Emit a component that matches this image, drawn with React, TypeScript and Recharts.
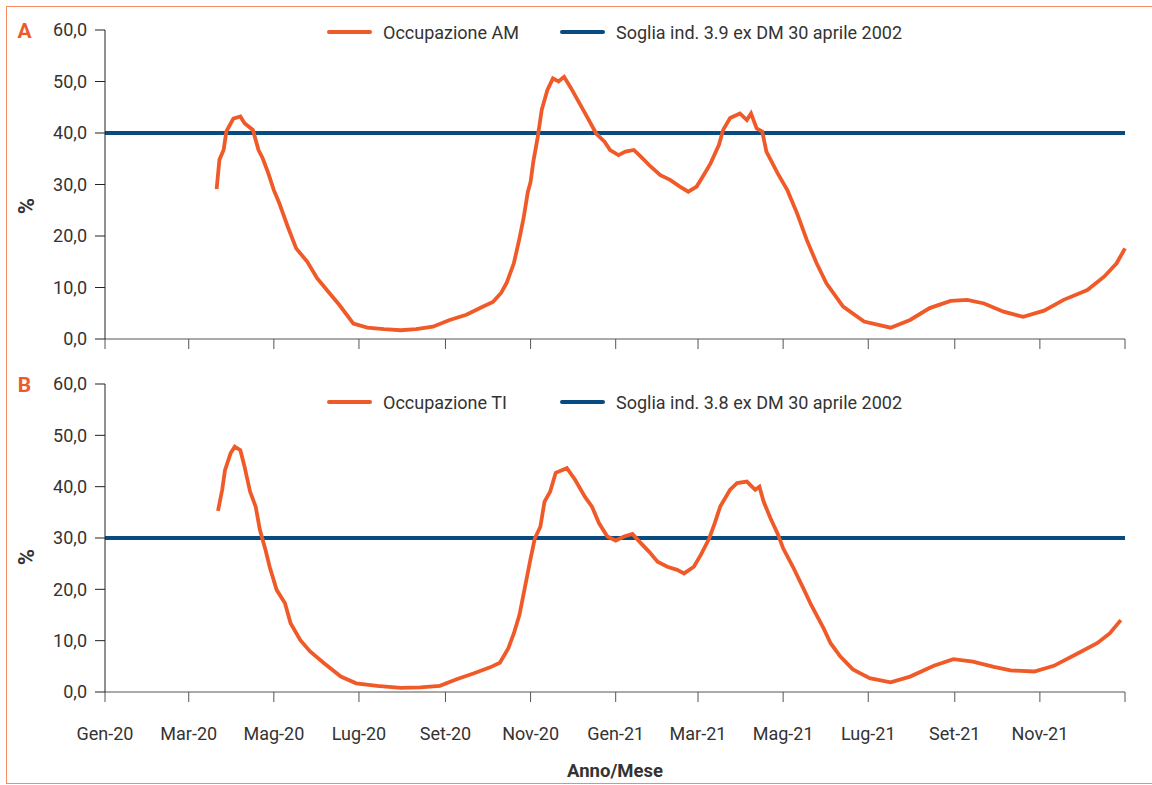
import React from 'react';
import { LineChart, Line, XAxis, YAxis, ReferenceLine } from 'recharts';

// days counted from 1 Jan 2020
const monthTicks = [0, 60, 121, 182, 244, 305, 366, 425, 486, 547, 609, 670, 731];
const monthLabels = ['Gen-20', 'Mar-20', 'Mag-20', 'Lug-20', 'Set-20', 'Nov-20', 'Gen-21', 'Mar-21', 'Mag-21', 'Lug-21', 'Set-21', 'Nov-21', ''];
const yTicks = [0, 10, 20, 30, 40, 50, 60];

const amDays = [80, 82, 85, 87, 92, 97, 100, 106, 110, 113, 117, 121, 125, 131, 137, 145, 152, 159, 168, 178, 188, 200, 212, 223, 235, 247, 259, 271, 278, 284, 288, 293, 297, 300, 303, 305, 307, 310, 313, 317, 321, 325, 329, 334, 340, 346, 352, 358, 362, 368, 373, 379, 384, 391, 398, 405, 412, 418, 424, 429, 434, 440, 443, 448, 455, 460, 463, 467, 471, 474, 482, 489, 496, 503, 510, 517, 529, 544, 563, 577, 591, 606, 618, 630, 644, 658, 673, 687, 704, 716, 725, 731];
const amValues = [29.1, 34.8, 36.7, 40.3, 42.8, 43.2, 41.9, 40.6, 36.7, 35.1, 32.2, 28.9, 26.3, 21.8, 17.6, 15.0, 11.8, 9.5, 6.6, 3.0, 2.2, 1.9, 1.7, 1.9, 2.4, 3.7, 4.7, 6.3, 7.2, 9.0, 11.0, 14.7, 19.5, 23.5, 28.5, 30.5, 34.5, 39.0, 44.5, 48.3, 50.6, 50.0, 50.9, 48.7, 45.8, 42.9, 39.9, 38.3, 36.7, 35.7, 36.4, 36.7, 35.4, 33.5, 31.8, 30.9, 29.6, 28.6, 29.6, 31.8, 34.1, 37.7, 40.6, 42.9, 43.8, 42.5, 43.8, 40.9, 40.3, 36.4, 32.2, 28.9, 24.4, 19.2, 14.7, 10.8, 6.3, 3.4, 2.2, 3.7, 6.0, 7.4, 7.6, 6.9, 5.3, 4.3, 5.5, 7.6, 9.5, 12.1, 14.7, 17.6];

const tiDays = [81, 84, 86, 90, 93, 97, 100, 104, 108, 111, 115, 118, 123, 129, 133, 140, 147, 157, 169, 180, 195, 212, 226, 240, 252, 264, 276, 283, 289, 293, 297, 301, 305, 308, 312, 315, 319, 323, 331, 337, 344, 349, 354, 360, 366, 372, 378, 384, 390, 396, 403, 410, 415, 422, 427, 433, 437, 441, 448, 453, 460, 466, 469, 472, 477, 482, 486, 493, 501, 506, 515, 520, 527, 536, 548, 563, 577, 594, 608, 622, 637, 649, 666, 680, 697, 711, 720, 728];
const tiValues = [35.3, 39.4, 43.2, 46.5, 47.8, 47.1, 43.9, 39.0, 36.1, 31.6, 27.7, 24.4, 19.9, 17.3, 13.4, 10.1, 7.9, 5.6, 3.0, 1.7, 1.2, 0.8, 0.9, 1.2, 2.5, 3.6, 4.8, 5.7, 8.5, 11.4, 15.0, 20.5, 26.0, 29.9, 32.2, 37.1, 39.0, 42.7, 43.6, 41.3, 38.0, 36.1, 32.9, 30.3, 29.5, 30.3, 30.8, 29.0, 27.3, 25.4, 24.4, 23.8, 23.1, 24.4, 26.7, 29.9, 32.9, 36.2, 39.4, 40.7, 41.0, 39.4, 40.0, 37.1, 33.8, 30.9, 28.0, 24.4, 19.9, 17.0, 12.4, 9.5, 6.9, 4.4, 2.7, 1.9, 3.0, 5.1, 6.4, 5.9, 4.9, 4.2, 4.0, 5.1, 7.5, 9.5, 11.4, 14.0];

const thresholdAM = 40;
const thresholdTI = 30;

const ORANGE = '#F05A28';
const BLUE = '#074B80';
const TEXT = '#333333';
const FONT = 'Roboto, "Noto Sans", sans-serif';

const fmtY = (v: number) => v.toFixed(1).replace('.', ',');
const fmtX = (v: number) => {
    const i = monthTicks.indexOf(v);
    return i >= 0 ? monthLabels[i] : '';
};

interface PanelProps {
    days: number[];
    values: number[];
    threshold: number;
    top: number;
    height: number;
    xAxisHeight: number;
    showLabels: boolean;
}

function Panel({ days, values, threshold, top, height, xAxisHeight, showLabels }: PanelProps) {
    const data = days.map((d, i) => ({ day: d, value: values[i] }));
    return (
        <div style={{ position: 'absolute', left: 0, top }}>
            <LineChart width={1152} height={height} data={data} margin={{ top: 30, right: 27, left: 0, bottom: 0 }} style={{ fontFamily: FONT }}>
                <XAxis
                    dataKey="day"
                    type="number"
                    domain={[0, 731]}
                    ticks={monthTicks}
                    tickFormatter={showLabels ? fmtX : () => ''}
                    height={xAxisHeight}
                    tickSize={10}
                    tickMargin={25}
                    stroke="#555"
                    tick={{ fill: TEXT, fontSize: 18 }}
                    interval={0}
                />
                <YAxis
                    domain={[0, 60]}
                    ticks={yTicks}
                    tickFormatter={fmtY}
                    width={105}
                    tickSize={10}
                    tickMargin={8}
                    stroke="#222"
                    tick={{ fill: TEXT, fontSize: 18 }}
                    interval={0}
                />
                <ReferenceLine y={threshold} stroke={BLUE} strokeWidth={4} />
                <Line dataKey="value" stroke={ORANGE} strokeWidth={3.8} dot={false} type="linear" isAnimationActive={false} />
            </LineChart>
        </div>
    );
}

function LegendRow({ top, first, second }: { top: number; first: string; second: string }) {
    const item = (left: number, color: string, label: string) => (
        <div style={{ position: 'absolute', left, top: top - 12, height: 24, display: 'flex', alignItems: 'center' }}>
            <div style={{ width: 45, height: 4, borderRadius: 2, background: color }} />
            <span style={{ marginLeft: 11, fontSize: 18, color: TEXT, whiteSpace: 'nowrap' }}>{label}</span>
        </div>
    );
    return (
        <>
            {item(327, ORANGE, first)}
            {item(560, BLUE, second)}
        </>
    );
}

const centered = (x: number, y: number): React.CSSProperties => ({
    position: 'absolute',
    left: x,
    top: y,
    transform: 'translate(-50%, -50%)',
    lineHeight: 1,
    whiteSpace: 'nowrap',
});

export default function App() {
    return (
        <div style={{ position: 'absolute', left: 0, top: 0, width: 1152, height: 785, overflow: 'hidden', background: '#fff', fontFamily: FONT }}>
            <div style={{ position: 'absolute', left: 6, top: 6, width: 1170, height: 776, border: '1.5px solid #F58B63' }} />
            <Panel days={amDays} values={amValues} threshold={thresholdAM} top={0} height={360} xAxisHeight={21} showLabels={false} />
            <Panel days={tiDays} values={tiValues} threshold={thresholdTI} top={354} height={400} xAxisHeight={62} showLabels={true} />
            <LegendRow top={32} first="Occupazione AM" second="Soglia ind. 3.9 ex DM 30 aprile 2002" />
            <LegendRow top={402} first="Occupazione TI" second="Soglia ind. 3.8 ex DM 30 aprile 2002" />
            <span style={{ ...centered(24.5, 31), fontSize: 21, fontWeight: 700, color: ORANGE }}>A</span>
            <span style={{ ...centered(24.5, 385), fontSize: 21, fontWeight: 700, color: ORANGE }}>B</span>
            <span style={{ ...centered(27, 206), fontSize: 22, fontWeight: 700, color: TEXT, transform: 'translate(-50%, -50%) rotate(-90deg)' }}>%</span>
            <span style={{ ...centered(27, 557), fontSize: 22, fontWeight: 700, color: TEXT, transform: 'translate(-50%, -50%) rotate(-90deg)' }}>%</span>
            <span style={{ ...centered(615, 771), fontSize: 18.5, fontWeight: 700, color: TEXT }}>Anno/Mese</span>
        </div>
    );
}
